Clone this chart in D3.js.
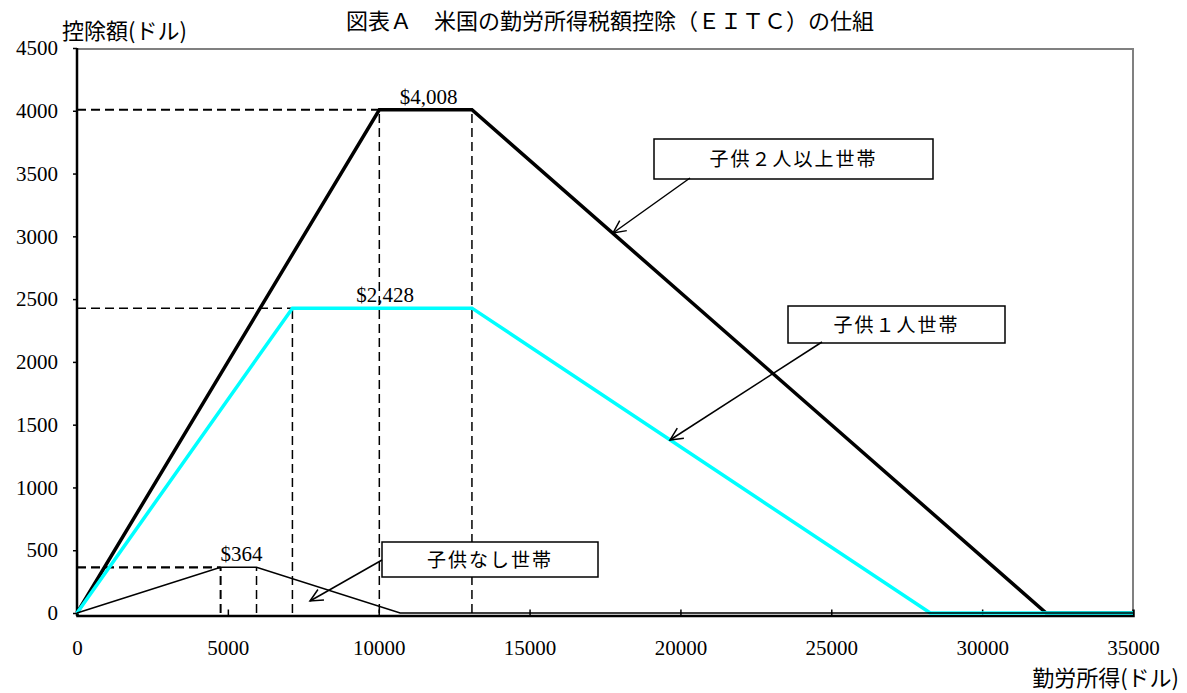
<!DOCTYPE html>
<html>
<head>
<meta charset="utf-8">
<script src="https://cdn.jsdelivr.net/npm/d3@7"></script>
<style>
  body { margin: 0; background: #fff; }
  svg text { font-family: "Liberation Serif", "Times New Roman", serif; }
  svg text.jp { font-family: "Noto Sans CJK JP", sans-serif; }
</style>
</head>
<body>
<main></main>
<script>
const width = 1187;
const height = 693;
const margin = {top: 48, bottom: 80, left: 77, right: 54};

// EITC schedule (2001)
const incomeTwo = [0, 10020, 13090, 32121, 35000];
const creditTwo = [0, 4008, 4008, 0, 0];
const incomeOne = [0, 7140, 13090, 28281, 35000];
const creditOne = [0, 2428, 2428, 0, 0];
const incomeNone = [0, 4760, 5950, 10710, 35000];
const creditNone = [0, 364, 364, 0, 0];

const xTicks = [0, 5000, 10000, 15000, 20000, 25000, 30000, 35000];
const yTicks = [0, 500, 1000, 1500, 2000, 2500, 3000, 3500, 4000, 4500];

const title = "図表Ａ　米国の勤労所得税額控除（ＥＩＴＣ）の仕組";
const yTitle = "控除額(ドル)";
const xTitle = "勤労所得(ドル)";

const maxLabels = ["$4,008", "$2,428", "$364"];
const seriesNames = ["子供２人以上世帯", "子供１人世帯", "子供なし世帯"];

const svg = d3.select("main")
    .append("svg")
        .attr("width", width)
        .attr("height", height);

const x = d3.scaleLinear()
    .domain([0, 35000])
    .range([margin.left, width - margin.right]);
const y = d3.scaleLinear()
    .domain([0, 4500])
    .range([height - margin.bottom, margin.top]);

// plot frame: top/right grey, left/bottom black
svg.append("line")
    .attr("x1", x(0)).attr("x2", x(35000))
    .attr("y1", y(4500) + 1).attr("y2", y(4500) + 1)
    .attr("stroke", "#808080").attr("stroke-width", 2);
svg.append("line")
    .attr("x1", x(35000)).attr("x2", x(35000))
    .attr("y1", y(4500)).attr("y2", y(0) + 2.5)
    .attr("stroke", "#808080").attr("stroke-width", 2);

// axes
const axisX = svg.append("g")
    .attr("transform", `translate(0, ${y(0) + 2.5})`)
    .call(d3.axisBottom(x).tickValues(xTicks).tickSize(-6).tickPadding(25).tickFormat(d3.format("d")))
    .attr("font-family", "Liberation Serif")
    .attr("font-size", 21);
axisX.select(".domain").attr("stroke-width", 2.5);
axisX.selectAll(".tick line").attr("stroke-width", 1.5);
axisX.selectAll(".tick text").attr("fill", "#000");
axisX.selectAll(".tick").filter(d => d === 0 || d === 35000).select("line").remove();

const axisY = svg.append("g")
    .attr("transform", `translate(${x(0)}, 0)`)
    .call(d3.axisLeft(y).tickValues(yTicks).tickSize(4).tickPadding(15).tickFormat(d3.format("d")))
    .attr("font-family", "Liberation Serif")
    .attr("font-size", 21);
axisY.select(".domain").attr("stroke-width", 2.5).attr("d", `M0,${y(4500)}V${y(0) + 3}`);
axisY.selectAll(".tick line").attr("stroke-width", 1.5);
axisY.selectAll(".tick text").attr("fill", "#000");

// guide lines to the maxima
const guides = svg.append("g").attr("fill", "none").attr("stroke", "#000");
const hGuide = (v, xEnd, w) => guides.append("line")
    .attr("x1", x(0)).attr("x2", x(xEnd))
    .attr("y1", y(v)).attr("y2", y(v))
    .attr("stroke-width", w).attr("stroke-dasharray", "9,5");
const vGuide = (xv, v, w) => guides.append("line")
    .attr("x1", x(xv)).attr("x2", x(xv))
    .attr("y1", y(0)).attr("y2", y(v))
    .attr("stroke-width", w).attr("stroke-dasharray", "9,5");

hGuide(creditTwo[1], incomeTwo[1], 2.2);
hGuide(creditOne[1], incomeOne[1], 1.5);
hGuide(creditNone[1], incomeNone[1], 2.2);
vGuide(incomeTwo[1], creditTwo[1], 1.5);
vGuide(incomeTwo[2], creditTwo[2], 1.5);
vGuide(incomeOne[1], creditOne[1], 1.5);
vGuide(incomeNone[1], creditNone[1], 2);
vGuide(incomeNone[2], creditNone[2], 1.5);

// series lines
const line = d3.line().x(d => x(d[0])).y(d => y(d[1]));
const zip = (a, b) => a.map((v, i) => [v, b[i]]);

svg.append("path")
    .datum(zip(incomeTwo, creditTwo))
    .attr("fill", "none").attr("stroke", "#000").attr("stroke-width", 3.5)
    .attr("d", line);
svg.append("path")
    .datum(zip(incomeOne, creditOne))
    .attr("fill", "none").attr("stroke", "#00FFFF").attr("stroke-width", 3.5)
    .attr("d", line);
svg.append("path")
    .datum(zip(incomeNone, creditNone))
    .attr("fill", "none").attr("stroke", "#000").attr("stroke-width", 1.6)
    .attr("d", line);

// max value labels
const labelData = [
    {t: maxLabels[0], x: (incomeTwo[1] + incomeTwo[2]) / 2, v: creditTwo[1]},
    {t: maxLabels[1], x: (incomeOne[1] + incomeOne[2]) / 2, v: creditOne[1]},
    {t: maxLabels[2], x: (incomeNone[1] + incomeNone[2]) / 2, v: creditNone[1]}
];
svg.append("g").selectAll("text")
    .data(labelData)
    .join("text")
        .attr("x", d => x(d.x) + 3)
        .attr("y", d => y(d.v) - 6)
        .attr("text-anchor", "middle")
        .style("font-size", "21px")
        .text(d => d.t);

// callouts
const callouts = [
    {name: seriesNames[0], box: [654, 139, 279, 40], from: [690, 178], to: [613, 233]},
    {name: seriesNames[1], box: [788, 306, 217, 37], from: [822, 342], to: [670, 440]},
    {name: seriesNames[2], box: [382, 542, 216, 35], from: [382, 560], to: [310, 601]}
];
const cg = svg.append("g");
callouts.forEach(c => {
    cg.append("rect")
        .attr("x", c.box[0]).attr("y", c.box[1])
        .attr("width", c.box[2]).attr("height", c.box[3])
        .attr("fill", "#fff").attr("stroke", "#000").attr("stroke-width", 1.5);
    cg.append("text")
        .attr("class", "jp")
        .attr("x", c.box[0] + c.box[2] / 2)
        .attr("y", c.box[1] + c.box[3] / 2 + 7)
        .attr("text-anchor", "middle")
        .style("font-size", "19px")
        .style("letter-spacing", "2px")
        .text(c.name);
    cg.append("line")
        .attr("x1", c.from[0]).attr("y1", c.from[1])
        .attr("x2", c.to[0]).attr("y2", c.to[1])
        .attr("stroke", "#000").attr("stroke-width", 1.5);
    const ang = Math.atan2(c.to[1] - c.from[1], c.to[0] - c.from[0]);
    const len = 14, spread = 0.45;
    cg.append("path")
        .attr("d", `M${c.to[0] - len * Math.cos(ang - spread)},${c.to[1] - len * Math.sin(ang - spread)}L${c.to[0]},${c.to[1]}L${c.to[0] - len * Math.cos(ang + spread)},${c.to[1] - len * Math.sin(ang + spread)}`)
        .attr("fill", "none").attr("stroke", "#000").attr("stroke-width", 1.5);
});

// titles
svg.append("text")
    .attr("class", "jp")
    .attr("x", 610).attr("y", 29)
    .attr("text-anchor", "middle")
    .style("font-size", "22px")
    .text(title);
svg.append("text")
    .attr("class", "jp")
    .attr("x", 62).attr("y", 39)
    .style("font-size", "22px")
    .text(yTitle);
svg.append("text")
    .attr("class", "jp")
    .attr("x", 1179).attr("y", 686)
    .attr("text-anchor", "end")
    .style("font-size", "22px")
    .text(xTitle);
</script>
</body>
</html>
